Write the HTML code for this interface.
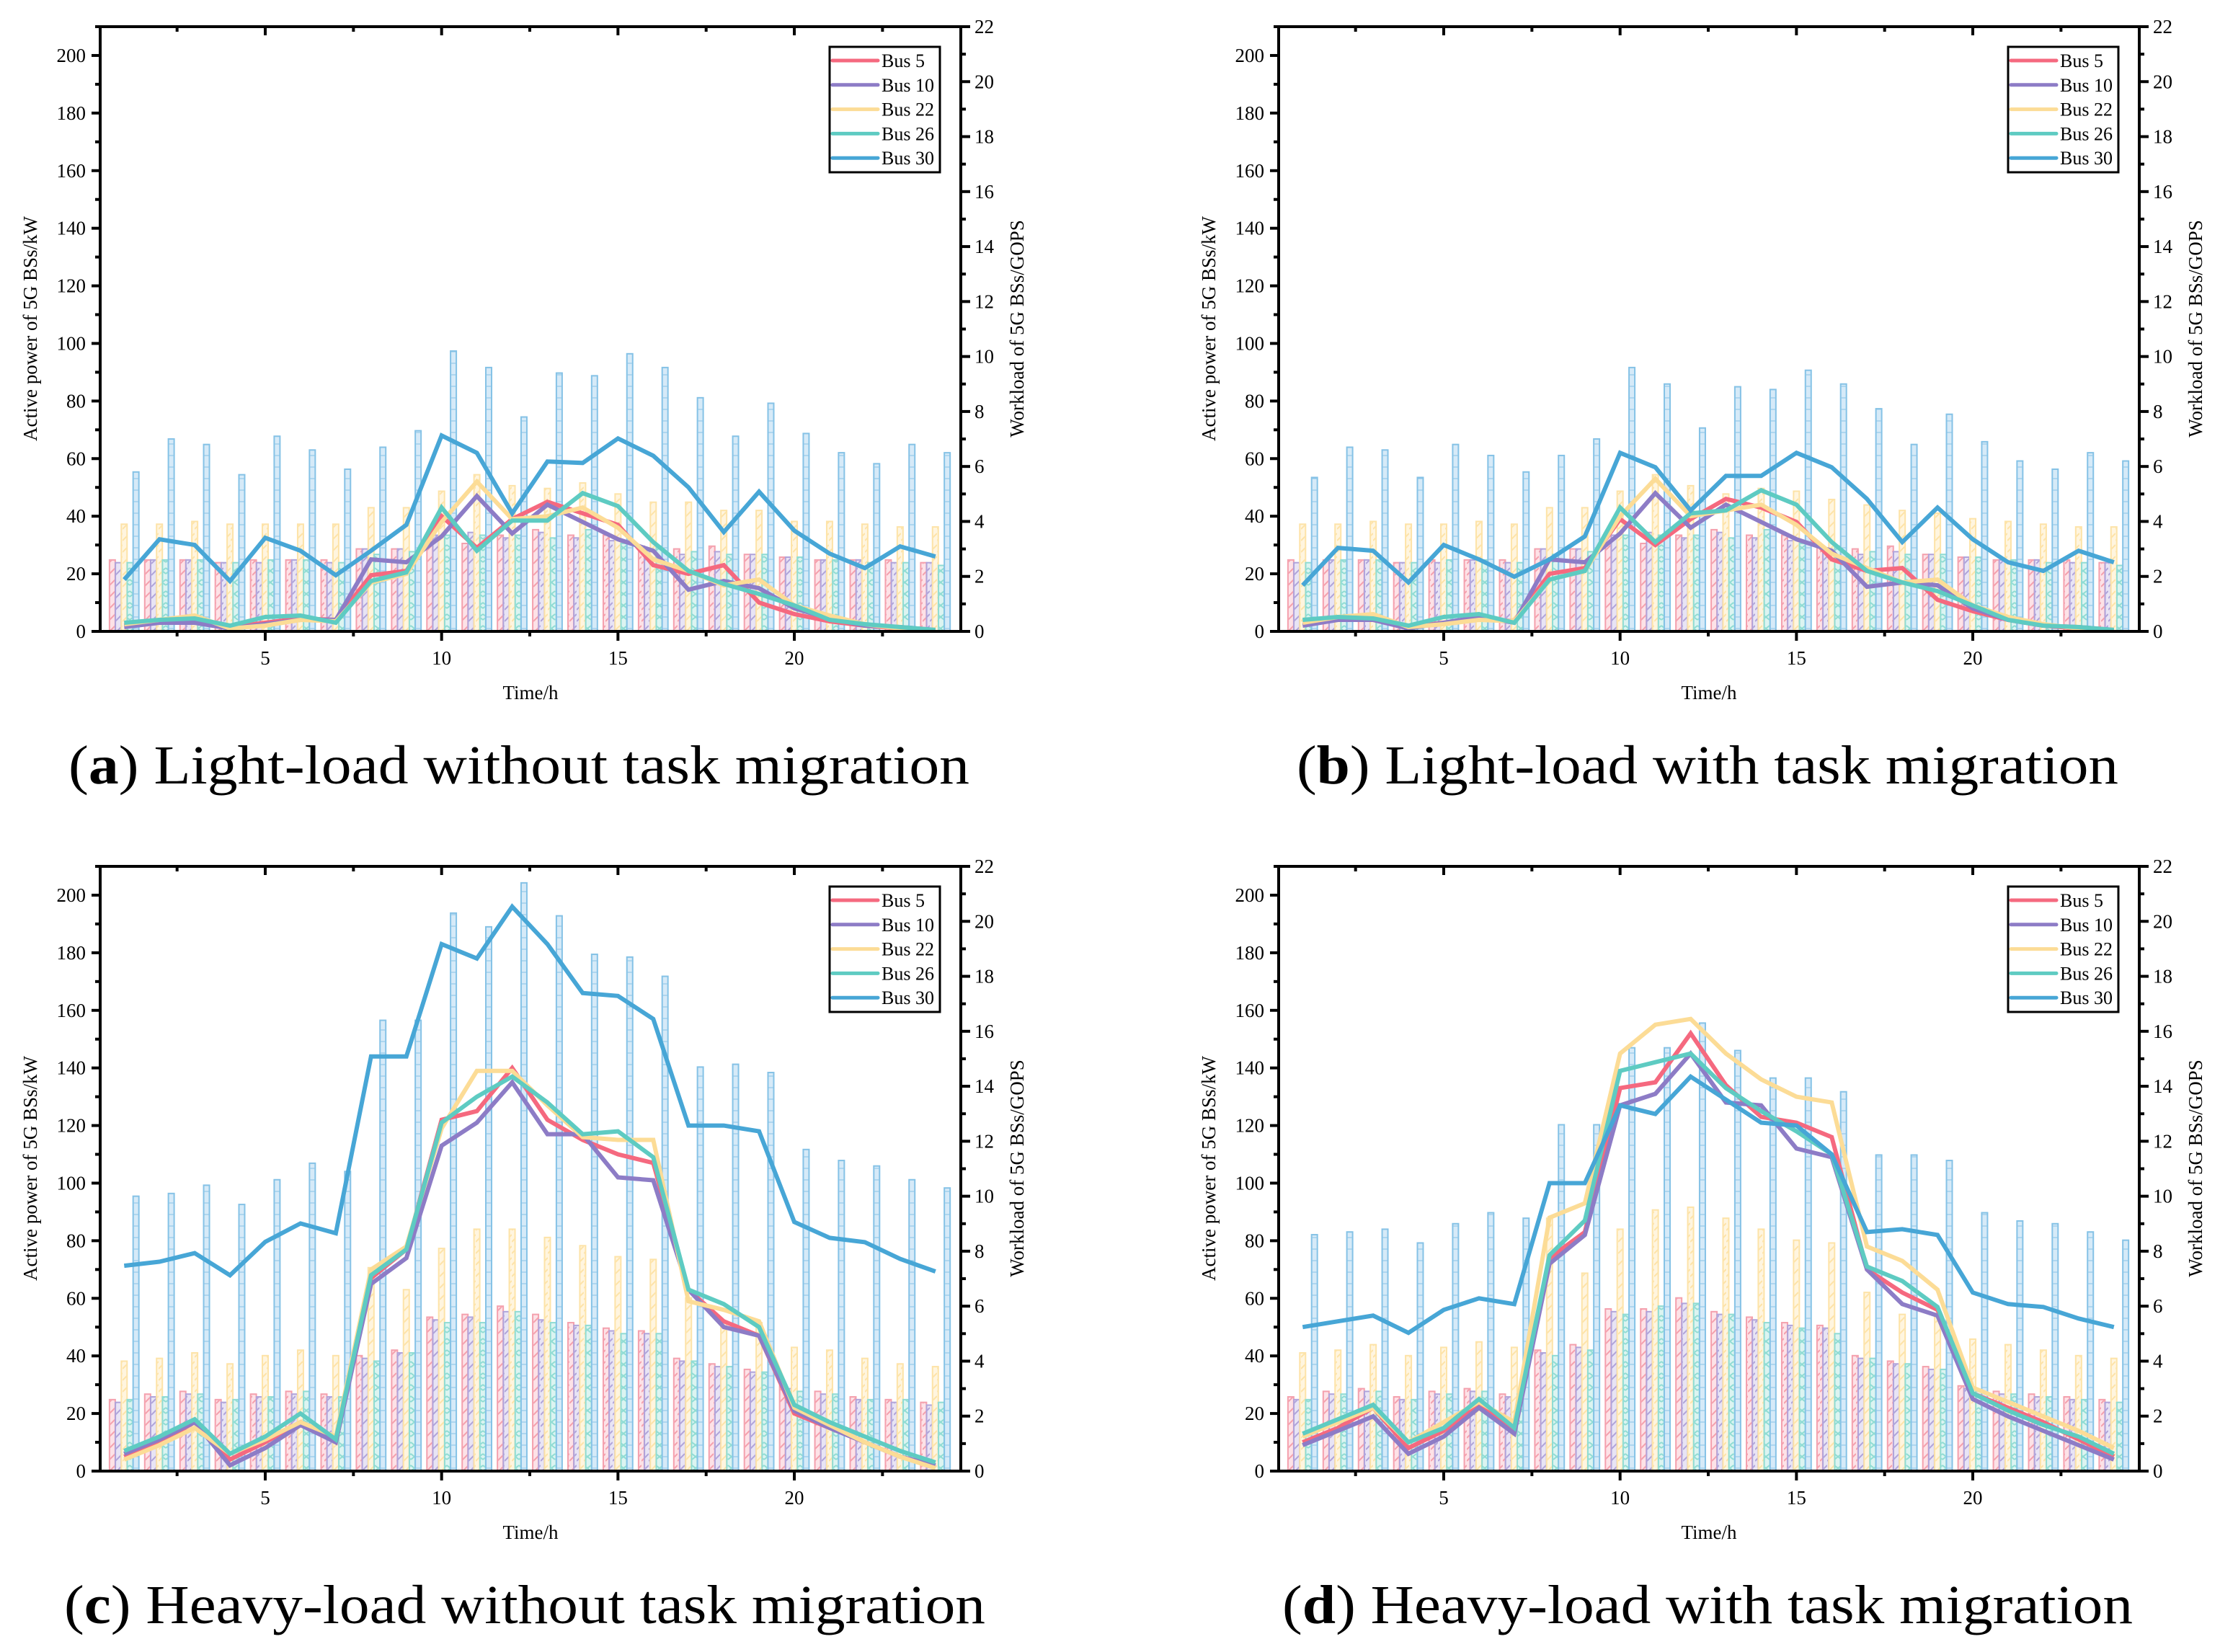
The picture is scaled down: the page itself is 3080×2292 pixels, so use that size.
<!DOCTYPE html>
<html><head><meta charset="utf-8"><style>
html,body{margin:0;padding:0;background:#fff;}
svg{display:block;font-family:"Liberation Serif",serif;}
</style></head><body>
<svg id="fig" width="3080" height="2292" viewBox="0 0 3080 2292" xmlns="http://www.w3.org/2000/svg">
<defs>
<pattern id="hp" width="10" height="16" patternUnits="userSpaceOnUse"><path d="M0,14 L10,4" stroke="#f4a0ad" stroke-width="2"/></pattern>
<pattern id="hv" width="10" height="16" patternUnits="userSpaceOnUse"><path d="M0,14 L10,4" stroke="#b0a3da" stroke-width="2"/></pattern>
<pattern id="hy" width="10" height="16" patternUnits="userSpaceOnUse"><path d="M0,14 L10,4" stroke="#fde3a8" stroke-width="2"/></pattern>
<pattern id="ht" width="10" height="16" patternUnits="userSpaceOnUse"><path d="M0,4 L10,12 M0,12 L10,4" stroke="#8fdcd3" stroke-width="2"/></pattern>
<pattern id="hb" width="10" height="16" patternUnits="userSpaceOnUse"><path d="M0,8 L10,8" stroke="#85c2e6" stroke-width="1"/></pattern>
</defs>
</svg>
<script>
// ---- data ----
const hours = [1,2,3,4,5,6,7,8,9,10,11,12,13,14,15,16,17,18,19,20,21,22,23,24];
const seriesNames = ["Bus 5","Bus 10","Bus 22","Bus 26","Bus 30"];
const leftTicks = [0,20,40,60,80,100,120,140,160,180,200];
const rightTicks = [0,2,4,6,8,10,12,14,16,18,20,22];
const xTicks = [5,10,15,20];
const captions = ["Light-load without task migration","Light-load with task migration","Heavy-load without task migration","Heavy-load with task migration"];
const captionLetters = ["a","b","c","d"];

// Panel a: line power (kW)
const a_p5  = [2,4,4.5,1.5,3,4.5,4,19.5,21,40,29,39,45,41,37,23,20,23,10,6,3.5,2,1,0.5];
const a_p10 = [1.5,3,3,1,2.5,4,4,25,24,33,47,34,44,38,32,28,14.5,17.5,15,8,4.5,2,1.5,0.5];
const a_p22 = [2.5,4,5.5,1,2,4,3.5,17,20,38,52,39,40,43,36,25,21,16,18,9,5.5,2.5,1,0.5];
const a_p26 = [3,4,4.5,2,5,5.5,3,17.5,20.5,43,28,38.5,38.5,48,43.5,31,21,16.5,13,9,4,2.5,1.5,0.5];
const a_p30 = [18,32,30,17.5,32.5,28,19.5,28,37,68,62,41,59,58.5,67,61,50,34.5,48.5,35,27,22,29.5,26];
// Panel a: bar workload (GOPS)
const a_w5  = [2.6,2.6,2.6,2.5,2.6,2.6,2.6,3.0,3.0,3.6,3.2,3.5,3.7,3.5,3.5,3.1,3.0,3.1,2.8,2.7,2.6,2.6,2.6,2.5];
const a_w10 = [2.5,2.6,2.6,2.5,2.5,2.6,2.5,3.0,3.0,3.5,3.6,3.4,3.6,3.4,3.3,3.0,2.8,2.9,2.8,2.7,2.6,2.6,2.5,2.5];
const a_w22 = [3.9,3.9,4.0,3.9,3.9,3.9,3.9,4.5,4.5,5.1,5.7,5.3,5.2,5.4,5.0,4.7,4.7,4.4,4.4,4.0,4.0,3.9,3.8,3.8];
const a_w26 = [2.5,2.6,2.6,2.5,2.6,2.6,2.5,2.8,2.9,3.5,3.5,3.5,3.4,3.7,3.2,3.1,2.9,2.8,2.8,2.7,2.6,2.5,2.5,2.4];
const a_w30 = [5.8,7.0,6.8,5.7,7.1,6.6,5.9,6.7,7.3,10.2,9.6,7.8,9.4,9.3,10.1,9.6,8.5,7.1,8.3,7.2,6.5,6.1,6.8,6.5];

// Panel b
const b_p5  = [3,4,4,1.5,3,4.5,3.5,20,22,39,30,39,46,43,38,25,21,22,11,7,4,2,1,0.5];
const b_p10 = [2,4,4,1,3,5,3,25,24,34,48,36,44,38,32,28,15.5,17,16,8,4,2,1.5,0.5];
const b_p22 = [3,5,6,1.5,2.5,4,3.5,18,21,40,53,40,42,44,37,27,22,17,18,9,5,2.5,1,0.5];
const b_p26 = [4,5,4.5,2,5,6,3,18,21,43,31,41,42,49,44,31,21,17,14,9,4,2,1.5,0.5];
const b_p30 = [16,29,28,17,30,25,19,25,33,62,57,42,54,54,62,57,46,31,43,32,24,21,28,24];
const b_w5  = [2.6,2.6,2.6,2.5,2.6,2.6,2.6,3.0,3.0,3.6,3.2,3.5,3.7,3.5,3.5,3.1,3.0,3.1,2.8,2.7,2.6,2.6,2.6,2.5];
const b_w10 = [2.5,2.6,2.6,2.5,2.5,2.6,2.5,3.0,3.0,3.5,3.6,3.4,3.6,3.4,3.3,3.0,2.8,2.9,2.8,2.7,2.6,2.6,2.5,2.5];
const b_w22 = [3.9,3.9,4.0,3.9,3.9,4.0,3.9,4.5,4.5,5.1,5.7,5.3,5.0,5.2,5.1,4.8,4.6,4.4,4.3,4.1,4.0,3.9,3.8,3.8];
const b_w26 = [2.5,2.6,2.6,2.5,2.6,2.6,2.5,2.8,2.9,3.5,3.5,3.5,3.4,3.7,3.2,3.1,2.9,2.8,2.8,2.7,2.6,2.5,2.5,2.4];
const b_w30 = [5.6,6.7,6.6,5.6,6.8,6.4,5.8,6.4,7.0,9.6,9.0,7.4,8.9,8.8,9.5,9.0,8.1,6.8,7.9,6.9,6.2,5.9,6.5,6.2];

// Panel c
const c_p5  = [5,10,17,4,10,17,10,67,77,122,125,140,122,115,110,107,63,52,47,20,15,10,5,2];
const c_p10 = [6,11,17,2,8,16,10,65,74,113,121,135,117,117,102,101,63,50,47,21,15,10,5,2];
const c_p22 = [4,9,15,6,11,17,12,70,78,119,139,139,127,116,115,115,59,56,52,22,16,10,5,1];
const c_p26 = [7,12,18,6,12,20,11,68,77,121,130,137,128,117,118,109,63,58,50,23,17,12,7,3];
const c_p30 = [71.3,72.7,75.7,68,79.6,86,82.6,144,144,183,178,196,183,166,165,157,120,120,118,86.5,81,79.5,73.7,69.3];
const c_w5  = [2.6,2.8,2.9,2.6,2.8,2.9,2.8,4.2,4.4,5.6,5.7,6.0,5.7,5.4,5.2,5.1,4.1,3.9,3.7,3.1,2.9,2.7,2.6,2.5];
const c_w10 = [2.5,2.7,2.8,2.5,2.7,2.8,2.7,4.1,4.3,5.5,5.6,5.8,5.5,5.3,5.1,5.0,4.0,3.8,3.6,3.0,2.8,2.6,2.5,2.4];
const c_w22 = [4.0,4.1,4.3,3.9,4.2,4.4,4.2,7.4,6.6,8.1,8.8,8.8,8.5,8.2,7.8,7.7,6.3,5.4,5.4,4.5,4.4,4.1,3.9,3.8];
const c_w26 = [2.6,2.7,2.8,2.6,2.7,2.9,2.7,4.0,4.3,5.4,5.4,5.8,5.4,5.3,5.0,5.0,4.0,3.8,3.6,2.9,2.8,2.6,2.6,2.5];
const c_w30 = [10,10.1,10.4,9.7,10.6,11.2,10.9,16.4,16.4,20.3,19.8,21.4,20.2,18.8,18.7,18,14.7,14.8,14.5,11.7,11.3,11.1,10.6,10.3];

// Panel d
const d_p5  = [10,15,22,8,14,23,14,74,83,133,135,152,134,123,121,116,70,62,56,27,22,17,11,5];
const d_p10 = [9,14,19,6,12,22,13,72,82,127,131,145,128,127,112,109,70,58,54,25,19,14,9,4];
const d_p22 = [12,17,22,10,17,24,17,88,93,145,155,157,145,136,130,128,78,73,63,29,24,19,14,8];
const d_p26 = [13,18,23,10,15,25,15,75,87,139,142,145,133,125,118,110,71,66,57,27,21,16,12,6];
const d_p30 = [50,52,54,48,56,60,58,100,100,127,124,137,129,121,120,110,83,84,82,62,58,57,53,50];
const d_w5  = [2.7,2.9,3.0,2.7,2.9,3.0,2.8,4.4,4.6,5.9,5.9,6.3,5.8,5.6,5.4,5.3,4.2,4.0,3.8,3.1,2.9,2.8,2.7,2.6];
const d_w10 = [2.6,2.8,2.9,2.6,2.8,2.9,2.7,4.3,4.5,5.8,5.8,6.1,5.7,5.5,5.3,5.2,4.1,3.9,3.7,3.0,2.8,2.7,2.6,2.5];
const d_w22 = [4.3,4.4,4.6,4.2,4.5,4.7,4.5,9.2,7.2,8.8,9.5,9.6,9.2,8.8,8.4,8.3,6.5,5.7,5.7,4.8,4.6,4.4,4.2,4.1];
const d_w26 = [2.6,2.8,2.9,2.6,2.8,2.9,2.8,4.2,4.4,5.7,6.0,6.1,5.7,5.4,5.2,5.0,4.1,3.9,3.7,2.9,2.8,2.7,2.6,2.5];
const d_w30 = [8.6,8.7,8.8,8.3,9,9.4,9.2,12.6,12.6,15.4,15.4,16.3,15.3,14.3,14.3,13.8,11.5,11.5,11.3,9.4,9.1,9,8.7,8.4];

const panelPower = [[a_p5,a_p10,a_p22,a_p26,a_p30],[b_p5,b_p10,b_p22,b_p26,b_p30],[c_p5,c_p10,c_p22,c_p26,c_p30],[d_p5,d_p10,d_p22,d_p26,d_p30]];
const panelLoad  = [[a_w5,a_w10,a_w22,a_w26,a_w30],[b_w5,b_w10,b_w22,b_w26,b_w30],[c_w5,c_w10,c_w22,c_w26,c_w30],[d_w5,d_w10,d_w22,d_w26,d_w30]];

// ---- styles ----
const lineColors = ["#f5697f","#8d7cc6","#fcdc96","#5ecbc2","#47a6d6"];
const barStroke = ["#f4a0ad","#b0a3da","#fde3a8","#8fdcd3","#85c2e6"];
const barFill = ["#fde2e7","#e8e4f5","#fff5df","#dcf4f1","#d6eaf8"];
const barPat = ["hp","hv","hy","ht","hb"];
const offsets = [[0,0],[1635,0],[0,1165],[1635,1165]];
const capX = [720,2369,728,2369];
const capLen = [1250,1140,1278,1180];

const NS = "http://www.w3.org/2000/svg";
const svg = document.getElementById("fig");
function mk(tag, attrs, parent){
  const e = document.createElementNS(NS, tag);
  for (const k in attrs) e.setAttribute(k, attrs[k]);
  (parent||svg).appendChild(e);
  return e;
}
const L=139, R=1333, T=37, B=876;
const X0=0.32, X1=24.72;
function xs(h){ return L + (h-X0)/(X1-X0)*(R-L); }
function yl(v){ return B - v/210*(B-T); }
function yr(v){ return B - v/22*(B-T); }

for (let p=0; p<4; p++){
  const g = mk("g", {transform:"translate("+offsets[p][0]+","+offsets[p][1]+")"});
  
  
  // bars
  const bg = mk("g", {}, g);
  
  
  for (let s=0; s<5; s++){
    const vals = panelLoad[p][s];
    for (let i=0; i<hours.length; i++){
      const cx = xs(hours[i]) + (s-2)*8.2;
      const y = yr(vals[i]);
      const r = mk("rect", {x:cx-4, y:y, width:8, height:B-y, fill:barFill[s], stroke:barStroke[s], "stroke-width":2}, bg);
      
      
      const r2 = mk("rect", {x:cx-3, y:y+1, width:6, height:Math.max(0,B-y-1), fill:"url(#"+barPat[s]+")"}, bg);
      
      
    }
  }
  // lines
  for (let s=0; s<5; s++){
    const vals = panelPower[p][s];
    const pts = hours.map((h,i)=> xs(h).toFixed(1)+","+yl(vals[i]).toFixed(1)).join(" ");
    const pl = mk("polyline", {points:pts, fill:"none", stroke:lineColors[s], "stroke-width":6, "stroke-linejoin":"miter"}, g);
    
    
  }
  // axes frame
  const ax = mk("g", {stroke:"#000", "stroke-width":4, fill:"none"}, g);
  
  
  mk("path", {d:"M"+L+","+T+" H"+R+" V"+B+" H"+L+" Z"}, ax);
  // left ticks
  for (let v=0; v<=210; v+=10){
    const y=yl(v); const major = v%20===0;
    mk("line",{x1:L-(major?12:7),y1:y,x2:L,y2:y},ax);
  }
  for (const v of leftTicks){
    const t = mk("text",{x:L-20,y:yl(v)+9,"font-size":27,"text-anchor":"end",fill:"#000"},g);
    t.textContent = v;
    
    
  }
  // right ticks
  for (let v=0; v<=22; v+=1){
    const y=yr(v); const major = v%2===0;
    mk("line",{x1:R,y1:y,x2:R+(major?13:7),y2:y},ax);
  }
  for (const v of rightTicks){
    const t = mk("text",{x:R+19,y:yr(v)+9,"font-size":27,fill:"#000"},g);
    t.textContent = v;
    
    
  }
  // x ticks
  for (let h=2.5; h<=24; h+=2.5){
    const x=xs(h); const major = Math.abs(h%5)<0.01;
    mk("line",{x1:x,y1:B,x2:x,y2:B+(major?13:7)},ax);
    mk("line",{x1:x,y1:T,x2:x,y2:T+(major?12:7)},ax);
  }
  for (const h of xTicks){
    const t = mk("text",{x:xs(h),y:B+46,"font-size":27,"text-anchor":"middle",fill:"#000"},g);
    t.textContent = h;
    
    
  }
  // axis titles
  const xt = mk("text",{x:736,y:970,"font-size":27,"text-anchor":"middle",fill:"#000"},g);
  xt.textContent = "Time/h";
  
  
  const ylt = mk("text",{x:0,y:0,"font-size":27,"text-anchor":"middle",fill:"#000",transform:"translate(51,456) rotate(-90)"},g);
  ylt.textContent = "Active power of 5G BSs/kW";
  
  
  const yrt = mk("text",{x:0,y:0,"font-size":27,"text-anchor":"middle",fill:"#000",transform:"translate(1420,456) rotate(-90)"},g);
  yrt.textContent = "Workload of 5G BSs/GOPS";
  
  
  // legend
  const lg = mk("g",{},g);
  
  
  mk("rect",{x:1151,y:65,width:153,height:174,fill:"#fff",stroke:"#000","stroke-width":3},lg);
  for (let s=0; s<5; s++){
    const y = 84 + s*33.8;
    const le = mk("g",{},lg);
    
    
    mk("line",{x1:1155,y1:y,x2:1218,y2:y,stroke:lineColors[s],"stroke-width":5,"stroke-linecap":"round"},le);
    const t = mk("text",{x:1223,y:y+9,"font-size":26,fill:"#000"},le);
    t.textContent = seriesNames[s];
  }
  // caption
  const cap = mk("text",{x:capX[p]-offsets[p][0],y:1087,"font-size":76,"text-anchor":"middle",fill:"#000",textLength:capLen[p],lengthAdjust:"spacingAndGlyphs"},g);
  
  
  const t1 = mk("tspan",{},cap); t1.textContent="(";
  const t2 = mk("tspan",{"font-weight":"bold"},cap); t2.textContent=captionLetters[p];
  const t3 = mk("tspan",{},cap); t3.textContent=") "+captions[p];
}
</script>
</body></html>
